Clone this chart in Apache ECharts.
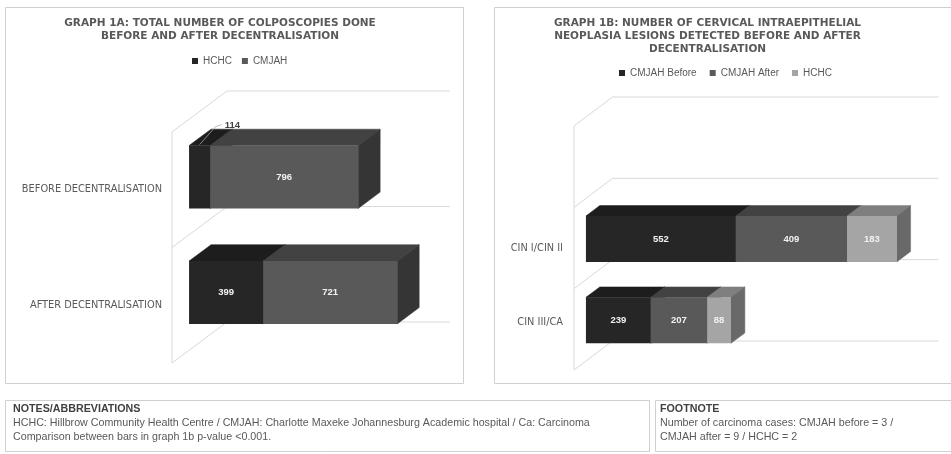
<!DOCTYPE html>
<html><head><meta charset="utf-8">
<script src="https://cdn.jsdelivr.net/npm/echarts@6/dist/echarts.min.js"></script>
<style>html,body{margin:0;padding:0;background:#fff;}#c{width:951px;height:454px;}</style>
</head><body><div id="c"></div>
<script>
// ---------------- data ----------------
const categories1 = ['AFTER DECENTRALISATION', 'BEFORE DECENTRALISATION'];
const hchc1 = [399, 114];
const cmjah1 = [721, 796];
const seriesNames1 = ['HCHC', 'CMJAH'];

const categories2 = ['CIN III/CA', 'CIN I/CIN II', ''];
const cmjahBefore2 = [239, 552, null];
const cmjahAfter2 = [207, 409, null];
const hchc2 = [88, 183, null];
const seriesNames2 = ['CMJAH Before', 'CMJAH After', 'HCHC'];

const valueMin = 0;
const valueMax = 1200;

const title1 = 'GRAPH 1A: TOTAL NUMBER OF COLPOSCOPIES DONE\nBEFORE AND AFTER DECENTRALISATION';
const title2 = 'GRAPH 1B: NUMBER OF CERVICAL INTRAEPITHELIAL\nNEOPLASIA LESIONS DETECTED BEFORE AND AFTER\nDECENTRALISATION';
const notesTitle = 'NOTES/ABBREVIATIONS';
const notesLines = [
  'HCHC: Hillbrow Community Health Centre / CMJAH: Charlotte Maxeke Johannesburg Academic hospital / Ca: Carcinoma',
  'Comparison between bars in graph 1b p-value <0.001.'
];
const footTitle = 'FOOTNOTE';
const footLines = [
  'Number of carcinoma cases: CMJAH before = 3 /',
  'CMJAH after = 9 / HCHC = 2'
];

// ---------------- styles ----------------
const shades = {
  dark:  { front: '#262626', top: '#1d1d1d', side: '#202020' },
  mid:   { front: '#595959', top: '#424242', side: '#353535' },
  light: { front: '#a5a5a5', top: '#7f7f7f', side: '#696969' }
};
const geo1 = { depth: [55, -41], t0: 0.31, t1: 0.71, barFrac: 0.545 };
const geo2 = { depth: [38.5, -29], t0: 0.31, t1: 0.67, barFrac: 0.565 };
const wallColor = '#d9d9d9';
const textGray = '#595959';

// ---------------- helpers ----------------
function stack(list) {
  const acc = list[0].map(() => 0);
  return list.map(vals => {
    const out = [];
    vals.forEach((v, i) => {
      if (v == null) return;
      out.push([i, acc[i], acc[i] + v, v]);
      acc[i] += v;
    });
    return out;
  });
}

function boxRenderer(geo, col) {
  return function (params, api) {
    const cat = api.value(0), s = api.value(1), e = api.value(2), v = api.value(3);
    const pS = api.coord([s, cat]);
    const pE = api.coord([e, cat]);
    const band = api.size([0, 1])[1];
    const h = band * geo.barFrac;
    const fx = geo.depth[0] * geo.t0, fy = geo.depth[1] * geo.t0;
    const dd = geo.t1 - geo.t0;
    const ddx = geo.depth[0] * dd, ddy = geo.depth[1] * dd;
    const xL = pS[0] + fx, xR = pE[0] + fx;
    const yT = pS[1] + fy - h / 2, yB = yT + h;
    const children = [
      { type: 'polygon', shape: { points: [[xL, yT], [xR, yT], [xR + ddx, yT + ddy], [xL + ddx, yT + ddy]] },
        style: { fill: col.top, stroke: col.top, lineWidth: 0.5 } },
      { type: 'polygon', shape: { points: [[xR, yT], [xR + ddx, yT + ddy], [xR + ddx, yB + ddy], [xR, yB]] },
        style: { fill: col.side, stroke: col.side, lineWidth: 0.5 } },
      { type: 'rect', shape: { x: xL, y: yT, width: xR - xL, height: h },
        style: { fill: col.front } }
    ];
    const xc = (xL + xR) / 2;
    if (xR - xL >= 22) {
      children.push({ type: 'text', x: xc, y: (yT + yB) / 2,
        style: { text: String(v), fill: '#f2f2f2', font: 'bold 9.5px "Liberation Sans", Arial, sans-serif',
          align: 'center', verticalAlign: 'middle' } });
    } else {
      children.push({ type: 'polyline', shape: { points: [[xc, yT - 1], [xc + 16, yT - 19], [xc + 22, yT - 21]] },
        style: { stroke: '#a6a6a6', lineWidth: 0.8, fill: null } });
      children.push({ type: 'text', x: xc + 25, y: yT - 20,
        style: { text: String(v), fill: '#404040', font: 'bold 9.5px "Liberation Sans", Arial, sans-serif',
          align: 'left', verticalAlign: 'middle' } });
    }
    return { type: 'group', children };
  };
}

function wallRenderer(geo, nCats) {
  return function (params, api) {
    const i = api.value(2);
    const band = api.size([0, 1])[1];
    const c0 = api.coord([valueMin, 0]);
    const x0 = c0[0];
    const xM = api.coord([valueMax, 0])[0];
    const yb = c0[1] + band / 2 - i * band;
    const dx = geo.depth[0], dy = geo.depth[1];
    const st = { stroke: wallColor, lineWidth: 1, fill: null };
    const children = [
      { type: 'line', shape: { x1: x0, y1: yb, x2: x0 + dx, y2: yb + dy }, style: st },
      { type: 'line', shape: { x1: x0 + dx, y1: yb + dy, x2: xM + dx, y2: yb + dy }, style: st }
    ];
    if (i === 0) {
      children.push({ type: 'line', shape: { x1: x0, y1: yb, x2: x0, y2: yb - nCats * band }, style: st });
    }
    return { type: 'group', children };
  };
}

const stacked1 = stack([hchc1, cmjah1]);
const stacked2 = stack([cmjahBefore2, cmjahAfter2, hchc2]);
const cols1 = [shades.dark, shades.mid];
const cols2 = [shades.dark, shades.mid, shades.light];

const wallData = n => Array.from({ length: n + 1 }, (_, i) => [valueMin, 0, i]);

const labelFont = { color: textGray, fontFamily: '"DejaVu Sans", sans-serif', fontSize: 9.8 };

const series = [
  { type: 'custom', xAxisIndex: 0, yAxisIndex: 0, silent: true, z: 1,
    renderItem: wallRenderer(geo1, categories1.length), data: wallData(categories1.length),
    encode: { x: 0, y: 1 } },
  { type: 'custom', xAxisIndex: 1, yAxisIndex: 1, silent: true, z: 1,
    renderItem: wallRenderer(geo2, categories2.length), data: wallData(categories2.length),
    encode: { x: 0, y: 1 } }
];
seriesNames1.forEach((n, k) => series.push({
  type: 'custom', name: n, xAxisIndex: 0, yAxisIndex: 0, z: 2,
  itemStyle: { color: cols1[k].front },
  renderItem: boxRenderer(geo1, cols1[k]), data: stacked1[k], encode: { x: [1, 2], y: 0 }
}));
seriesNames2.forEach((n, k) => series.push({
  type: 'custom', name: n, xAxisIndex: 1, yAxisIndex: 1, z: 2,
  itemStyle: { color: cols2[k].front },
  renderItem: boxRenderer(geo2, cols2[k]), data: stacked2[k], encode: { x: [1, 2], y: 0 }
}));

const legendText = { color: textGray, fontFamily: '"Liberation Sans", Arial, sans-serif', fontSize: 10 };
const titleText = { color: textGray, fontFamily: '"DejaVu Sans", sans-serif', fontSize: 10.5, fontWeight: 'bold', lineHeight: 13 };

function boxRect(x, y, w, h) {
  return { type: 'rect', shape: { x, y, width: w, height: h }, style: { fill: null, stroke: '#d0d0d0', lineWidth: 1 }, z: 0, silent: true };
}
function txt(x, y, text, bold) {
  return { type: 'text', x, y, silent: true,
    style: { text, fill: bold ? '#404040' : textGray,
      font: (bold ? 'bold ' : '') + '10.7px "Liberation Sans", Arial, sans-serif', verticalAlign: 'middle' } };
}

const option = {
  animation: false,
  backgroundColor: '#ffffff',
  title: [
    { text: title1, left: 220, top: 17, textAlign: 'center', textStyle: titleText, padding: 0 },
    { text: title2, left: 707.5, top: 17, textAlign: 'center', textStyle: titleText, padding: 0 }
  ],
  legend: [
    { left: 192, top: 56, itemWidth: 6, itemHeight: 6, itemGap: 10, icon: 'rect', padding: 0, textStyle: legendText,
      data: seriesNames1.map((n, k) => ({ name: n, itemStyle: { color: cols1[k].front } })) },
    { left: 619, top: 68, itemWidth: 6, itemHeight: 6, itemGap: 13, icon: 'rect', padding: 0, textStyle: legendText,
      data: seriesNames2.map((n, k) => ({ name: n, itemStyle: { color: cols2[k].front } })) }
  ],
  grid: [
    { left: 172, top: 132, width: 223, height: 231, containLabel: false },
    { left: 574, top: 126, width: 326, height: 244, containLabel: false }
  ],
  xAxis: [
    { type: 'value', gridIndex: 0, min: valueMin, max: valueMax, show: false },
    { type: 'value', gridIndex: 1, min: valueMin, max: valueMax, show: false }
  ],
  yAxis: [
    { type: 'category', gridIndex: 0, data: categories1, axisLine: { show: false }, axisTick: { show: false },
      splitLine: { show: false }, axisLabel: Object.assign({ margin: 10 }, labelFont) },
    { type: 'category', gridIndex: 1, data: categories2, axisLine: { show: false }, axisTick: { show: false },
      splitLine: { show: false },
      axisLabel: Object.assign({ margin: 11,
        formatter: (val, idx) => idx === 0 ? '{up|' + val + '}' : val,
        rich: { up: Object.assign({ padding: [0, 0, 14, 0] }, labelFont) } }, labelFont) }
  ],
  graphic: [
    boxRect(5.5, 7.5, 458, 376),
    boxRect(494.5, 7.5, 470, 376),
    boxRect(5.5, 400.5, 644, 51),
    boxRect(655.5, 400.5, 310, 51),
    txt(13, 409, notesTitle, true),
    txt(13, 423, notesLines[0], false),
    txt(13, 437, notesLines[1], false),
    txt(660, 409, footTitle, true),
    txt(660, 423, footLines[0], false),
    txt(660, 437, footLines[1], false)
  ],
  series
};

const chart = echarts.init(document.getElementById('c'), null, { renderer: 'canvas' });
chart.setOption(option);
</script>
</body></html>
